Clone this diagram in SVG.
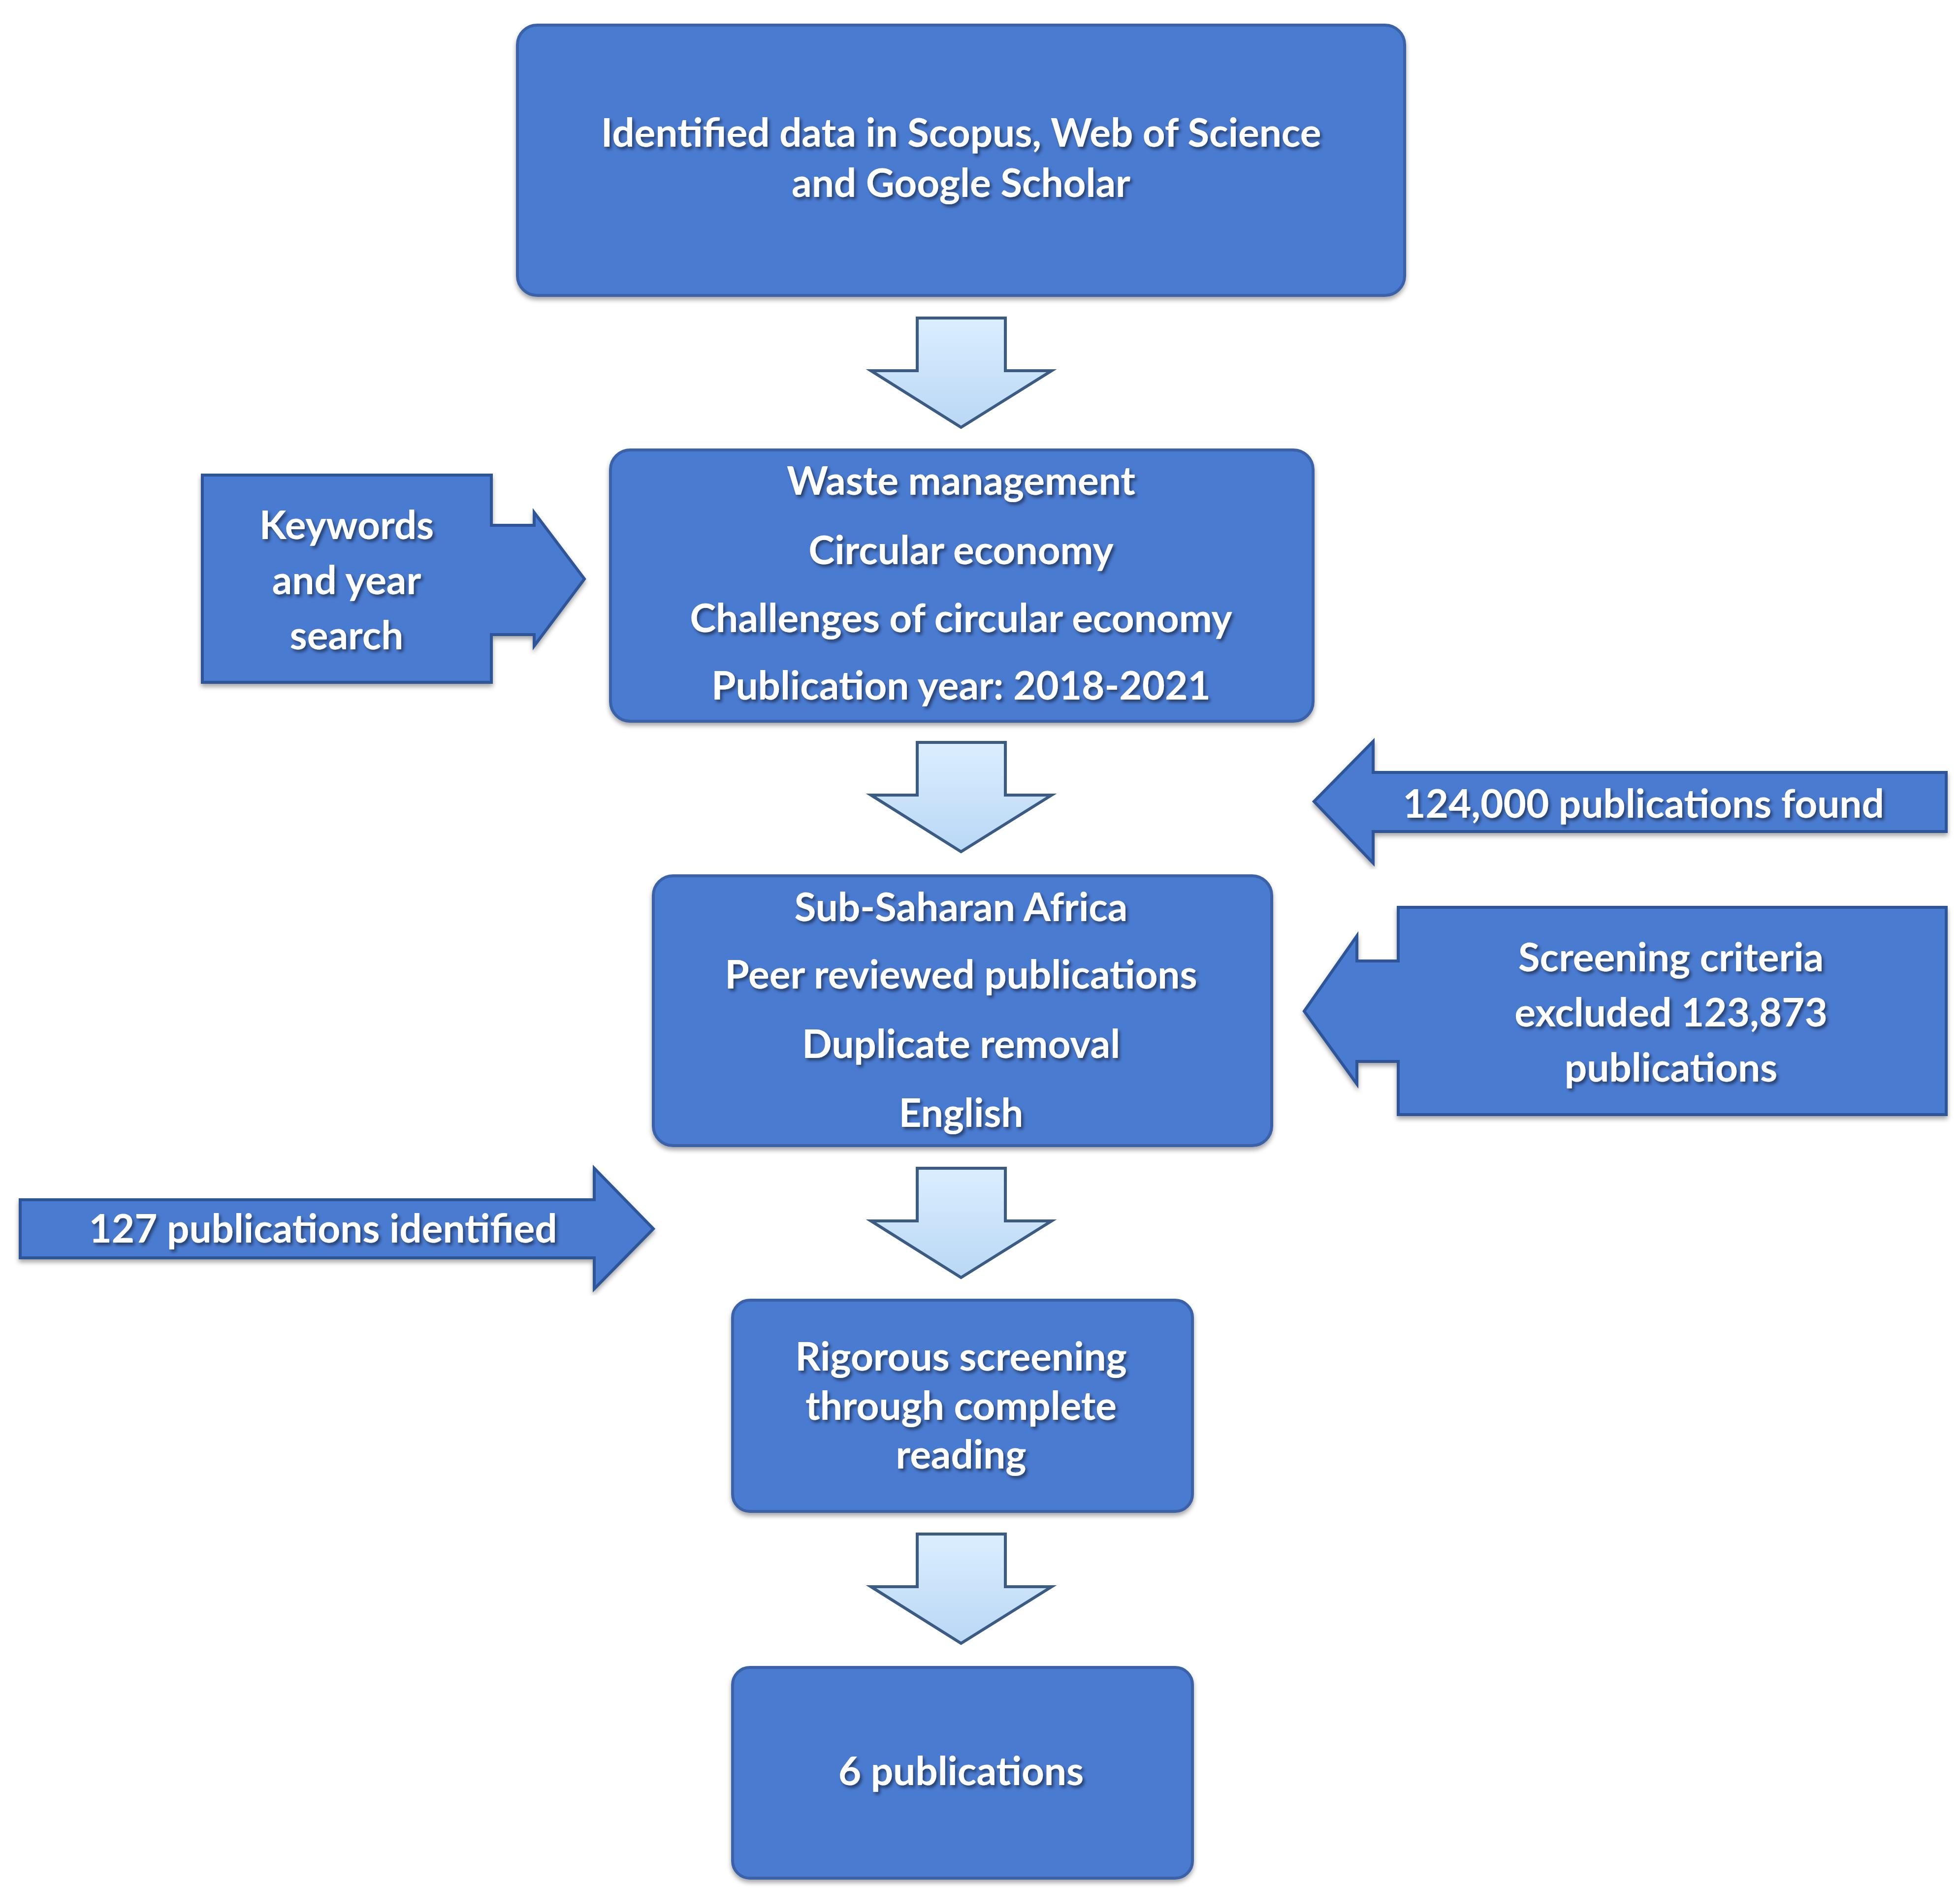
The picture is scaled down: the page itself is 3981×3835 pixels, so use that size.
<svg xmlns="http://www.w3.org/2000/svg" width="3981" height="3835" viewBox="0 0 3981 3835">
<style>
.box{fill:#4a7bd1;stroke:#3a62a8;stroke-width:6}
.shape{fill:#4a7bd1;stroke:#2f5597;stroke-width:6}
.down{fill:url(#lg);stroke:#3b5b82;stroke-width:6;stroke-linejoin:miter}
text{font-family:Lato,"Open Sans","Liberation Sans",sans-serif;font-weight:bold;fill:#fff;text-anchor:middle;font-size:80px;filter:url(#sh)}
</style>
<defs>
<linearGradient id="lg" x1="0" y1="0" x2="0" y2="1"><stop offset="0" stop-color="#dbeeff"/><stop offset="1" stop-color="#b9d7f5"/></linearGradient>
<filter id="sh" x="-5%" y="-20%" width="110%" height="140%"><feDropShadow dx="4" dy="5" stdDeviation="3" flood-color="#000" flood-opacity="0.5"/></filter>
<filter id="bs" x="-5%" y="-5%" width="110%" height="110%"><feDropShadow dx="0" dy="6" stdDeviation="5" flood-color="#000" flood-opacity="0.35"/></filter>
</defs>
<g id="connectors">
<path class="down" d="M1863,646 H2042 V753 H2136 L1952,868 L1769,753 H1863 Z"/>
<path class="down" d="M1863,1508 H2042 V1615 H2136 L1952,1730 L1769,1615 H1863 Z"/>
<path class="down" d="M1863,2373 H2042 V2480 H2136 L1952,2595 L1769,2480 H1863 Z"/>
<path class="down" d="M1863,3116 H2042 V3223 H2136 L1952,3338 L1769,3223 H1863 Z"/>
</g>
<g id="n1" filter="url(#bs)"><rect class="box" x="1051" y="51" width="1802" height="549" rx="40"/>
<text x="1952" y="298">Identified data in Scopus, Web of Science</text>
<text x="1952" y="400">and Google Scholar</text></g>
<g id="n2" filter="url(#bs)"><rect class="box" x="1240" y="914" width="1427" height="551" rx="40"/>
<text x="1952" y="1005">Waste management</text>
<text x="1952" y="1146">Circular economy</text>
<text x="1952" y="1284">Challenges of circular economy</text>
<text x="1952" y="1421">Publication year: 2018-2021</text></g>
<g id="n_keywords" filter="url(#bs)"><path class="shape" d="M411,965 H998 V1067 H1085 V1041 L1187,1176 L1085,1312 V1289 H998 V1386 H411 Z"/>
<text x="704" y="1095">Keywords</text>
<text x="704" y="1207">and year</text>
<text x="704" y="1319">search</text></g>
<g id="n_found" filter="url(#bs)"><path class="shape" d="M3953,1569 V1689 H2789 V1753 L2669,1628 L2789,1506 V1569 Z"/>
<text x="3338" y="1661">124,000 publications found</text></g>
<g id="n3" filter="url(#bs)"><rect class="box" x="1327" y="1779" width="1256" height="548" rx="40"/>
<text x="1952" y="1871">Sub-Saharan Africa</text>
<text x="1952" y="2008">Peer reviewed publications</text>
<text x="1952" y="2149">Duplicate removal</text>
<text x="1952" y="2289">English</text></g>
<g id="n_excluded" filter="url(#bs)"><path class="shape" d="M3953,1843 V2264 H2840 V2156 H2756 V2202 L2649,2054 L2756,1901 V1952 H2840 V1843 Z"/>
<text x="3394" y="1973">Screening criteria</text>
<text x="3394" y="2085">excluded 123,873</text>
<text x="3394" y="2197">publications</text></g>
<g id="n_identified" filter="url(#bs)"><path class="shape" d="M41,2437 H1207 V2373 L1327,2496 L1207,2618 V2555 H41 Z"/>
<text x="656" y="2524">127 publications identified</text></g>
<g id="n4" filter="url(#bs)"><rect class="box" x="1488" y="2641" width="934" height="429" rx="35"/>
<text x="1952" y="2784">Rigorous screening</text>
<text x="1952" y="2884">through complete</text>
<text x="1952" y="2983">reading</text></g>
<g id="n5" filter="url(#bs)"><rect class="box" x="1488" y="3387" width="934" height="428" rx="35"/>
<text x="1952" y="3626">6 publications</text></g>
</svg>
